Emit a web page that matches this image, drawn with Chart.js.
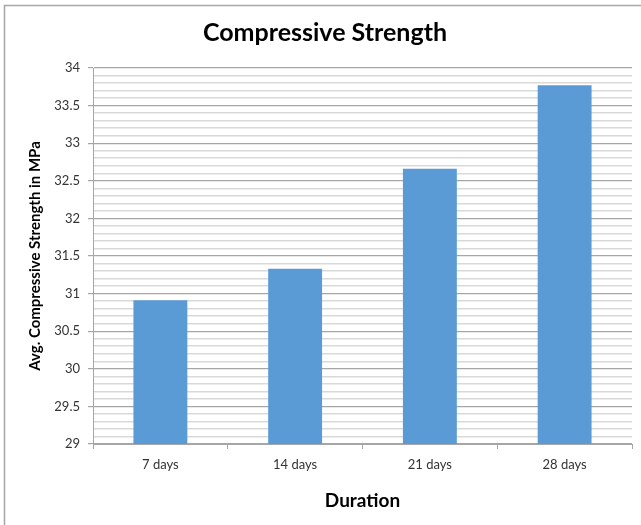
<!DOCTYPE html>
<html>
<head>
<meta charset="utf-8">
<script src="https://cdn.jsdelivr.net/npm/chart.js@4"></script>
<style>
  html, body { margin: 0; padding: 0; background: #fff; }
  #wrap { width: 641px; height: 525px; position: relative; }
</style>
</head>
<body>
<div id="wrap"><canvas id="c" width="641" height="525"></canvas></div>
<script>
// Average compressive strength (MPa) by curing duration
const durations = ['7 days', '14 days', '21 days', '28 days'];
const strengthMPa = [30.91, 31.33, 32.66, 33.77];
const yMin = 29;
const yMax = 34;
const labelStep = 0.5;

const FONT = 'Lato, "Open Sans", "Liberation Sans", sans-serif';

function isMajor(v) {
  const r = Math.round(v * 10) / 10;
  return Math.abs(r / labelStep - Math.round(r / labelStep)) < 1e-6;
}

// Thin grey frame around the whole chart (left and top edges)
const framePlugin = {
  id: 'frame',
  beforeDraw(chart) {
    const ctx = chart.ctx;
    ctx.save();
    ctx.strokeStyle = '#a6a6a6';
    ctx.lineWidth = 1.5;
    ctx.beginPath();
    ctx.moveTo(4.5, chart.height);
    ctx.lineTo(4.5, 5.5);
    ctx.lineTo(chart.width, 5.5);
    ctx.stroke();
    ctx.restore();
  }
};

new Chart(document.getElementById('c'), {
  type: 'bar',
  data: {
    labels: durations,
    datasets: [{
      data: strengthMPa,
      backgroundColor: '#5b9bd5',
      borderWidth: 0,
      categoryPercentage: 0.4,
      barPercentage: 1.0
    }]
  },
  options: {
    responsive: false,
    animation: false,
    devicePixelRatio: 1,
    layout: { padding: { left: 18, right: 9, top: 0, bottom: 0 } },
    plugins: {
      legend: { display: false },
      tooltip: { enabled: false },
      title: {
        display: true,
        text: 'Compressive Strength',
        color: '#000',
        font: { family: FONT, size: 25, weight: 'bold', lineHeight: 1.2 },
        padding: { top: 18, bottom: 20 }
      }
    },
    scales: {
      x: {
        offset: true,
        grid: {
          display: true,
          drawOnChartArea: false,
          offset: true,
          tickLength: 5,
          color: '#a6a6a6'
        },
        border: { display: true, color: '#a6a6a6', width: 1 },
        ticks: {
          color: '#333',
          padding: 8,
          font: { family: FONT, size: 13 }
        },
        title: {
          display: true,
          text: 'Duration',
          color: '#000',
          font: { family: FONT, size: 19, weight: 'bold', lineHeight: 1.2 },
          padding: { top: 0, bottom: 13 }
        },
        afterFit(scale) { scale.height = 81; }
      },
      y: {
        min: yMin,
        max: yMax,
        grid: {
          color: ctx => isMajor(ctx.tick ? ctx.tick.value : 0) ? '#a6a6a6' : '#d9d9d9',
          tickColor: ctx => isMajor(ctx.tick ? ctx.tick.value : 0) ? '#a6a6a6' : 'rgba(0,0,0,0)',
          lineWidth: ctx => isMajor(ctx.tick ? ctx.tick.value : 0) ? 1.2 : 1.5,
          tickLength: 5
        },
        border: { display: true, color: '#a6a6a6', width: 1 },
        ticks: {
          stepSize: 0.1,
          autoSkip: false,
          color: '#333',
          padding: 8,
          font: { family: FONT, size: 13 },
          callback(v) {
            return isMajor(v) ? String(Math.round(v * 10) / 10) : '';
          }
        },
        title: {
          display: true,
          text: 'Avg. Compressive Strength in MPa',
          color: '#000',
          font: { family: FONT, size: 15, weight: 'bold', lineHeight: 1.2 },
          padding: { top: 8, bottom: 0 }
        },
        afterFit(scale) { scale.width = 75; }
      }
    }
  },
  plugins: [framePlugin]
});
</script>
</body>
</html>
